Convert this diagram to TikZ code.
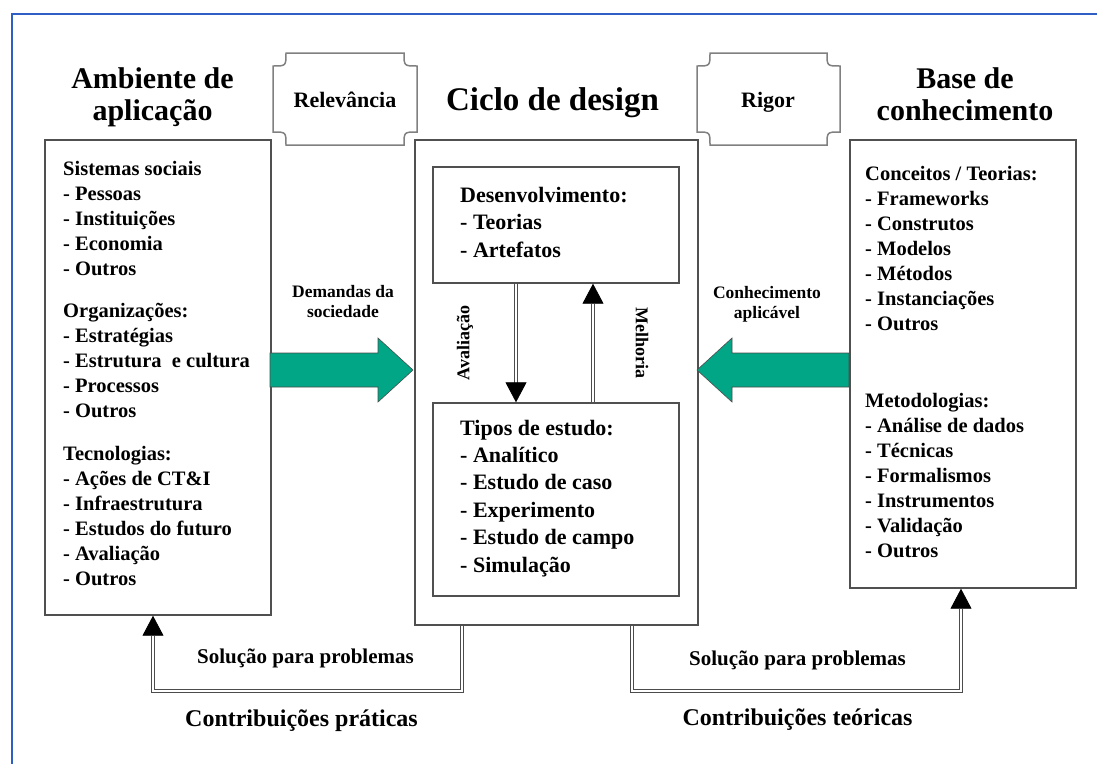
\documentclass[tikz,border=0pt]{standalone}
\usepackage{fontspec}
\setmainfont{Liberation Serif}
\usetikzlibrary{arrows.meta}
\definecolor{frameblue}{RGB}{47,94,196}
\definecolor{arrowgreen}{RGB}{0,166,133}
\definecolor{boxgray}{RGB}{80,80,80}

\begin{document}
\begin{tikzpicture}[
	x=1pt, y=-1pt,
	frame/.style={draw=frameblue, line width=2pt},
	box/.style={rectangle, draw=boxgray, line width=1.4pt, fill=white, inner sep=0pt},
	plaque/.style={draw=gray, line width=1.5pt, fill=white},
	title/.style={font=\fontsize{30}{32}\selectfont\bfseries, align=center, anchor=base},
	list/.style={font=\fontsize{20.5}{25}\selectfont\bfseries, align=left, anchor=base west, inner sep=0pt},
	inlist/.style={font=\fontsize{22}{27.4}\selectfont\bfseries, align=left, anchor=base west, inner sep=0pt},
	lbl/.style={font=\fontsize{17.5}{20}\selectfont\bfseries, align=center, anchor=base},
	sol/.style={font=\fontsize{21}{24}\selectfont\bfseries, anchor=base},
	contrib/.style={font=\fontsize{24}{28}\selectfont\bfseries, anchor=base},
	dbl/.style={draw=gray!60!black, double=white, double distance=2pt, line width=0.8pt},
	tipblack/.style={-{Triangle[width=21pt,length=20pt,color=black]}},
	bigarrow/.style={draw=black!70, line width=0.6pt, fill=arrowgreen}
	]
	\useasboundingbox (0,0) rectangle (1097,764);
	\draw[frame] (12,764) -- (12,14) -- (1097,14);

	% plaques
	\draw[plaque] (286,53) -- (404,53) .. controls (404,66) .. (417,66) -- (417,132)
		.. controls (404,132) .. (404,145) -- (286,145) .. controls (286,132) .. (273,132)
		-- (273,66) .. controls (286,66) .. (286,53) -- cycle;
	\draw[plaque] (710,53) -- (827,53) .. controls (827,66) .. (840,66) -- (840,132)
		.. controls (827,132) .. (827,145) -- (710,145) .. controls (710,132) .. (697,132)
		-- (697,66) .. controls (710,66) .. (710,53) -- cycle;
	\node[title, font=\fontsize{22}{24}\selectfont\bfseries] (relev) at (345,107) {Relevância};
	\node[title, font=\fontsize{22}{24}\selectfont\bfseries] (rigor) at (768,107) {Rigor};

	% titles (base = last line)
	\node[title] (ambtitle) at (152.5,120) {Ambiente de\\aplicação};
	\node[title, font=\fontsize{33}{36}\selectfont\bfseries] (cyctitle) at (552.5,110) {Ciclo de design};
	\node[title] (basetitle) at (965,120) {Base de\\conhecimento};

	% boxes
	\node[box, minimum width=226pt, minimum height=475pt] (amb) at (158,377.5) {};
	\node[box, minimum width=283pt, minimum height=485pt] (cyc) at (556.5,382.5) {};
	\node[box, minimum width=246pt, minimum height=116pt] (dev) at (556,225) {};
	\node[box, minimum width=246pt, minimum height=193pt] (tipos) at (556,499.5) {};
	\node[box, minimum width=226pt, minimum height=448pt] (base) at (963,364) {};

	% box contents
	\node[list] (ambtext) at (63,585) {Sistemas sociais\\- Pessoas\\- Instituições\\- Economia\\- Outros\\[17pt]
		Organizações:\\- Estratégias\\- Estrutura~ e cultura\\- Processos\\- Outros\\[18pt]
		Tecnologias:\\- Ações de CT\&I\\- Infraestrutura\\- Estudos do futuro\\- Avaliação\\- Outros};
	\node[inlist] (devtext) at (460,257) {Desenvolvimento:\\- Teorias\\- Artefatos};
	\node[inlist] (tipostext) at (460,572) {Tipos de estudo:\\- Analítico\\- Estudo de caso\\- Experimento\\- Estudo de campo\\- Simulação};
	\node[list] (basetext) at (865,557) {Conceitos / Teorias:\\- Frameworks\\- Construtos\\- Modelos\\- Métodos\\- Instanciações\\- Outros\\[52pt]
		Metodologias:\\- Análise de dados\\- Técnicas\\- Formalismos\\- Instrumentos\\- Validação\\- Outros};

	% relevance and rigor flows
	\draw[bigarrow] (270,353) -- (378,353) -- (378,338) -- (413,370) -- (378,402) -- (378,387) -- (270,387) -- cycle;
	\draw[bigarrow] (849,353) -- (732,353) -- (732,338) -- (697,370) -- (732,402) -- (732,387) -- (849,387) -- cycle;
	\node[lbl] (demandas) at (343,317) {Demandas da\\sociedade};
	\node[lbl] (aplicavel) at (767,318) {Conhecimento\\aplicável};

	% design cycle
	\draw[dbl, tipblack] ([xshift=-40pt]dev.south) -- ([xshift=-40pt]tipos.north);
	\draw[dbl, tipblack] ([xshift=37pt]tipos.north) -- ([xshift=37pt]dev.south);
	\node[lbl, font=\fontsize{18}{20}\selectfont\bfseries, anchor=center, rotate=90] (aval) at (465,343) {Avaliação};
	\node[lbl, font=\fontsize{18}{20}\selectfont\bfseries, anchor=center, rotate=-90] (melh) at (642,343) {Melhoria};

	% contributions
	\draw[dbl, tipblack] ([xshift=-94.5pt]cyc.south) -- ++(0,65) -| ([xshift=-5pt]amb.south);
	\draw[dbl, tipblack] ([xshift=75.5pt]cyc.south) -- ++(0,65) -| ([xshift=-2pt]base.south);
	\node[sol] (solleft) at (305.5,663) {Solução para problemas};
	\node[sol] (solright) at (797.5,665) {Solução para problemas};
	\node[contrib] (pratica) at (301.5,726) {Contribuições práticas};
	\node[contrib] (teorica) at (797.5,725) {Contribuições teóricas};
\end{tikzpicture}
\end{document}
